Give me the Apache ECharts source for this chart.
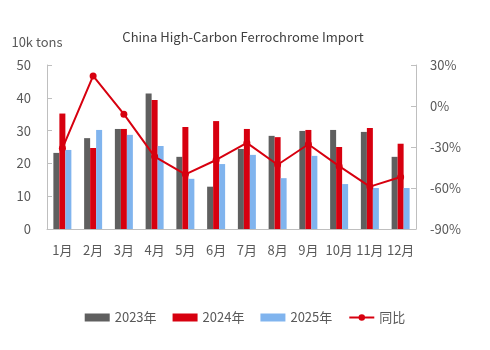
<!DOCTYPE html>
<html><head><meta charset="utf-8">
<script src="https://cdn.jsdelivr.net/npm/echarts@6/dist/echarts.min.js"></script>
<style>html,body{margin:0;padding:0;background:#fff}#c{width:490px;height:350px}</style>
</head><body><div id="c"></div>
<script>
const categories = ['1月','2月','3月','4月','5月','6月','7月','8月','9月','10月','11月','12月'];
const s2023 = [23.2, 27.7, 30.5, 41.3, 22.0, 12.9, 24.4, 28.4, 29.9, 30.2, 29.6, 22.0];
const s2024 = [35.2, 24.7, 30.5, 39.3, 31.1, 32.9, 30.5, 28.0, 30.2, 25.0, 30.8, 26.0];
const s2025 = [24.1, 30.2, 28.7, 25.3, 15.3, 19.8, 22.6, 15.5, 22.3, 13.7, 12.5, 12.5];
const yoy = [-31, 22, -6, -37, -50, -39.5, -27, -43, -28, -44, -59, -52];
const seriesNames = ['2023年','2024年','2025年','同比'];

const font = '"Noto Sans CJK SC","Noto Sans",sans-serif';
const txt = '#595959';
const chart = echarts.init(document.getElementById('c'));
chart.setOption({
  animation:false,
  textStyle:{fontFamily:font},
  title:{text:'China High-Carbon Ferrochrome Import',left:238,top:26,textAlign:'center',
    textStyle:{fontSize:13,fontWeight:'normal',color:'#404040',fontFamily:font}},
  legend:{bottom:21,left:'center',itemWidth:25,itemHeight:8,itemGap:16,
    textStyle:{fontSize:13,color:txt,fontFamily:font},
    data:[{name:seriesNames[0],icon:'rect'},{name:seriesNames[1],icon:'rect'},{name:seriesNames[2],icon:'rect'},{name:seriesNames[3]}]},
  grid:{left:47,right:74,top:65,bottom:121},
  xAxis:{type:'category',data:categories,
    axisLine:{lineStyle:{color:'#bfbfbf'}},
    axisTick:{inside:true,length:4,lineStyle:{color:'#bfbfbf'}},
    axisLabel:{color:txt,fontSize:13,margin:15,interval:0}},
  yAxis:[
    {type:'value',min:0,max:50,interval:10,name:'10k tons',nameGap:16,
     nameTextStyle:{color:txt,fontSize:13,align:'center',padding:[0,0,0,-20]},
     axisLine:{show:true,lineStyle:{color:'#bfbfbf'}},
     axisTick:{show:true,inside:true,length:5,lineStyle:{color:'#bfbfbf'}},
     splitLine:{show:false},
     axisLabel:{color:txt,fontSize:13,margin:16}},
    {type:'value',min:-90,max:30,interval:30,
     axisLine:{show:true,lineStyle:{color:'#bfbfbf'}},
     axisTick:{show:true,inside:true,length:5,lineStyle:{color:'#bfbfbf'}},
     splitLine:{show:false},
     axisLabel:{color:txt,fontSize:13,margin:14,formatter:'{value}%'}}
  ],
  series:[
    {name:seriesNames[0],type:'bar',data:s2023,barWidth:6,barGap:'0%',itemStyle:{color:'#5f5f5f'}},
    {name:seriesNames[1],type:'bar',data:s2024,barWidth:6,barGap:'0%',itemStyle:{color:'#d7000f'}},
    {name:seriesNames[2],type:'bar',data:s2025,barWidth:6,barGap:'0%',itemStyle:{color:'#80b4ee'}},
    {name:seriesNames[3],type:'line',yAxisIndex:1,data:yoy,symbol:'circle',symbolSize:7,
     lineStyle:{color:'#d7000f',width:2},itemStyle:{color:'#d7000f'}}
  ]
});
</script></body></html>
